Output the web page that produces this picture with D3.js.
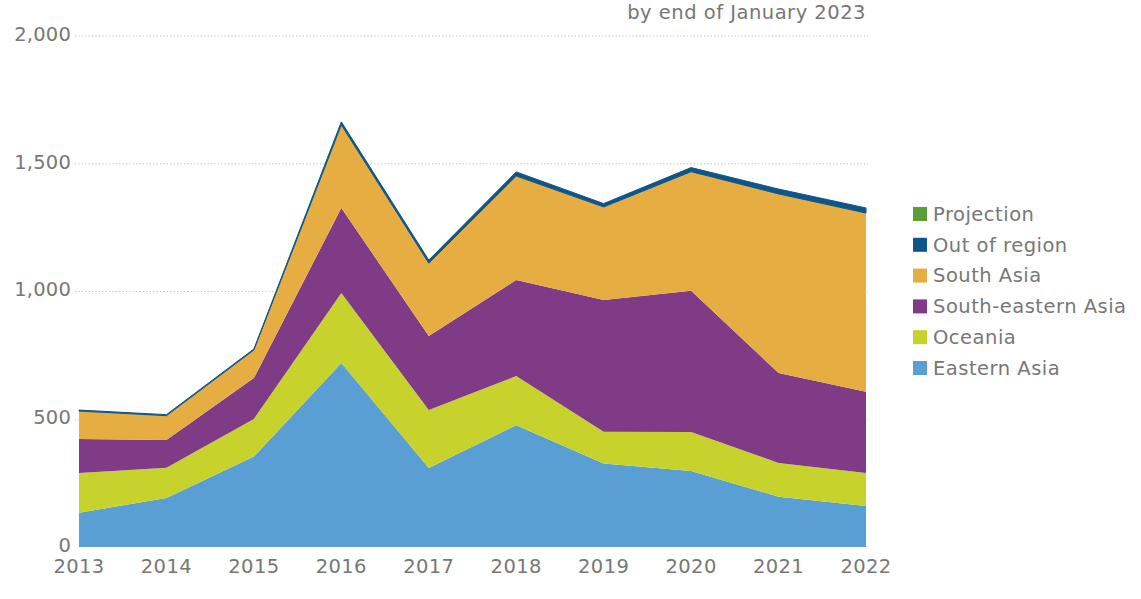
<!DOCTYPE html>
<html><head><meta charset="utf-8">
<script src="https://cdn.jsdelivr.net/npm/d3@7/dist/d3.min.js"></script>
<style>
body{margin:0;background:#fff;}
svg{display:block;font-family:"DejaVu Sans",sans-serif;}
</style></head>
<body><svg id="c" width="1141" height="599"></svg>
<script>
const years = [2013,2014,2015,2016,2017,2018,2019,2020,2021,2022];
const seriesNames = ["Eastern Asia","Oceania","South-eastern Asia","South Asia","Out of region","Projection"];
const easternAsia = [134,192,354,720,309,477,327,297,197,160];
const oceania = [156,118,147,274,227,192,124,153,132,130];
const southEasternAsia = [133,109,160,333,290,376,516,553,352,318];
const southAsia = [109,95,110,325,285,407,364,466,701,699];
const outOfRegion = [4,4,4,12,12,16,13,16,19,20];
const projection = [0,0,0,0,0,0,0,0,0,0];
const colors = ["#5a9fd4","#c8d22c","#7f3b86","#e5ad42","#0e5689","#5a9e3a"];
const yTicks = [0,500,1000,1500,2000];
const subtitle = "by end of January 2023";

const svg = d3.select("#c");
const x = d3.scaleLinear().domain([2013,2022]).range([79,866]);
const y = d3.scaleLinear().domain([0,2000]).range([547,36]);

const valuesBy = [easternAsia,oceania,southEasternAsia,southAsia,outOfRegion,projection];
const table = years.map((yr,i)=>{const o={year:yr}; seriesNames.forEach((n,k)=>o[n]=valuesBy[k][i]); return o;});
const stack = d3.stack().keys(seriesNames)(table);

// gridlines
svg.append("g").selectAll("line").data(yTicks.filter(d=>d>0)).join("line")
  .attr("x1",75).attr("x2",868).attr("y1",d=>y(d)).attr("y2",d=>y(d))
  .attr("stroke","#bdbdbd").attr("stroke-width",1).attr("stroke-dasharray","1.2,2.2");

const area = d3.area().x(d=>x(d.data.year)).y0(d=>y(d[0])).y1(d=>y(d[1]));
svg.append("g").selectAll("path").data(stack).join("path")
  .attr("d",area).attr("fill",(d,i)=>colors[i])
  .attr("stroke",(d,i)=>i===4?colors[i]:"none").attr("stroke-width",(d,i)=>i===4?1:0);

// y axis labels
svg.append("g").selectAll("text").data(yTicks).join("text")
  .attr("x",71).attr("y",d=>y(d)-2).attr("dy","0.35em").attr("text-anchor","end")
  .attr("font-size",19.5).attr("letter-spacing",0.2).attr("fill","#777").text(d=>d3.format(",")(d));

// x axis labels
svg.append("g").selectAll("text").data(years).join("text")
  .attr("x",d=>x(d)).attr("y",573).attr("text-anchor","middle")
  .attr("font-size",19.5).attr("letter-spacing",0.4).attr("fill","#777").text(d=>d);

// subtitle
svg.append("text").attr("x",866).attr("y",19).attr("text-anchor","end")
  .attr("font-size",19.5).attr("letter-spacing",0.5).attr("fill","#777").text(subtitle);

// legend
const legendOrder = seriesNames.map((n,i)=>({n,c:colors[i]})).reverse();
const lg = svg.append("g").selectAll("g").data(legendOrder).join("g")
  .attr("transform",(d,i)=>`translate(913,${214+i*30.8})`);
lg.append("rect").attr("x",0).attr("y",-7).attr("width",14).attr("height",14).attr("fill",d=>d.c);
lg.append("text").attr("x",20).attr("y",0).attr("dy","0.35em").attr("font-size",19.5)
  .attr("letter-spacing",0.5).attr("fill","#777").text(d=>d.n);
</script></body></html>
